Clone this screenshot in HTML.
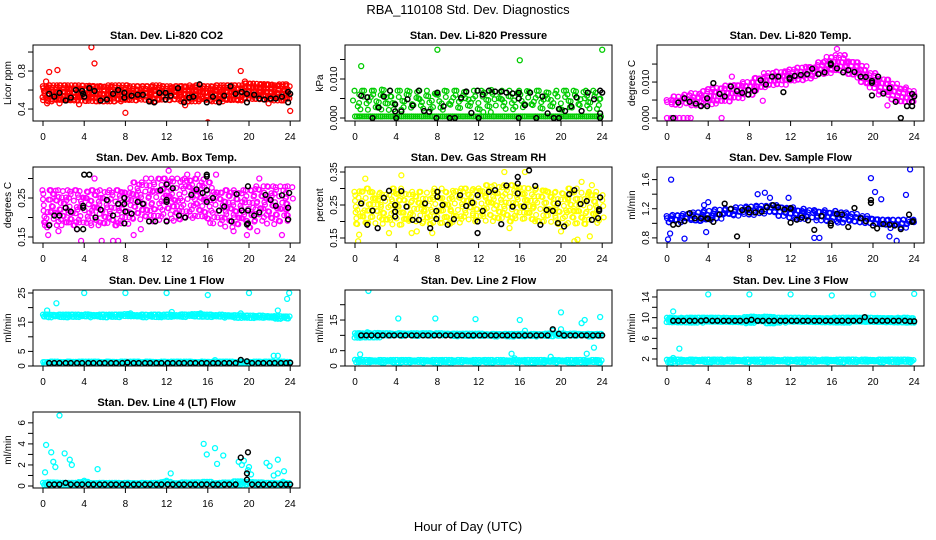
<!DOCTYPE html>
<html><head><meta charset="utf-8"><style>
html,body{margin:0;padding:0;background:#fff;}
svg{display:block;font-family:"Liberation Sans",Arial,sans-serif;}
</style></head><body>
<svg id="chart" width="936" height="540" viewBox="0 0 936 540" xmlns="http://www.w3.org/2000/svg">
<text x="468" y="14" font-size="13" text-anchor="middle">RBA_110108  Std. Dev. Diagnostics</text>
<text x="468" y="531" font-size="13" text-anchor="middle">Hour of Day (UTC)</text>
</svg>
<script>
// ---- shared data ----
const xTicks = [0,4,8,12,16,20,24];
const blackHours = [0.6,1.1,1.6,2.2,2.7,3.3,3.8,4.4,4.9,5.5,6.0,6.6,7.1,7.7,8.2,8.8,9.3,9.9,10.4,11.0,11.5,12.1,12.6,13.2,13.7,14.3,14.8,15.4,15.9,16.5,17.0,17.6,18.1,18.7,19.2,19.8,20.3,20.9,21.4,22.0,22.5,23.1,23.6,24.0];

// ---- CO2 ----
const co2Lo = [0.48,0.48,0.48,0.48,0.48,0.48,0.48,0.48,0.48,0.48,0.48,0.48,0.48,0.48,0.48,0.48,0.48,0.48,0.48,0.48,0.49,0.49,0.49,0.49,0.49];
const co2Hi = [0.64,0.65,0.65,0.65,0.65,0.65,0.65,0.65,0.65,0.64,0.64,0.65,0.64,0.64,0.65,0.65,0.64,0.65,0.65,0.65,0.67,0.67,0.67,0.66,0.66];
const co2Out = [[0.3,0.69],[0.6,0.79],[1.4,0.81],[4.7,1.05],[5,0.88],[19.2,0.8],[19.6,0.69],[0.4,0.46],[1.6,0.46],[8,0.36],[13.8,0.44],[16,0.26],[24,0.38],[21.9,0.46],[3.5,0.45]];
const co2Black = [[0.6,0.56],[1.1,0.53],[1.6,0.57],[2.2,0.49],[2.7,0.52],[3.2,0.6],[3.8,0.59],[3.9,0.56],[4,0.53],[4.5,0.62],[5,0.59],[5.6,0.49],[6.2,0.5],[6.8,0.56],[7.3,0.6],[7.9,0.52],[7.9,0.57],[8.6,0.54],[9.2,0.55],[9.7,0.55],[10.3,0.48],[10.8,0.47],[11.3,0.57],[11.9,0.5],[11.9,0.57],[12.4,0.54],[13.1,0.62],[13.7,0.47],[14.2,0.52],[14.6,0.53],[15.2,0.66],[15.9,0.47],[16.5,0.53],[17.1,0.47],[17.6,0.54],[18.2,0.64],[18.7,0.56],[19.3,0.58],[19.8,0.47],[19.8,0.56],[20.5,0.55],[21,0.51],[21.5,0.5],[22.1,0.51],[22.6,0.51],[23.2,0.53],[23.8,0.47],[23.8,0.58],[24,0.56]];

// ---- Pressure ----
const presLo = [0.0015,0.0015,0.0015,0.0015,0.0015,0.0015,0.0015,0.0015,0.0015,0.0015,0.0015,0.0015,0.0015,0.0015,0.0015,0.0015,0.0015,0.0015,0.0015,0.0015,0.0015,0.0015,0.0015,0.0015,0.0015];
const presHi = [0.007,0.007,0.007,0.0075,0.007,0.007,0.007,0.007,0.0068,0.007,0.007,0.007,0.007,0.0072,0.007,0.007,0.007,0.007,0.007,0.007,0.007,0.007,0.007,0.007,0.007];
const presZeroLo = [0,0,0,0,0,0,0,0,0,0,0,0,0,0,0,0,0,0,0,0,0,0,0,0,0];
const presZeroHi = [0.0004,0.0004,0.0004,0.0004,0.0004,0.0004,0.0004,0.0004,0.0004,0.0004,0.0004,0.0004,0.0004,0.0004,0.0004,0.0004,0.0004,0.0004,0.0004,0.0004,0.0004,0.0004,0.0004,0.0004,0.0004];
const presOut = [[0.6,0.0133],[8,0.0175],[16,0.0148],[24,0.0175]];
const presBlack = [[0.6,0.0057],[1.2,0.0053],[1.7,0],[2.3,0.0027],[2.8,0.0055],[3.4,0.007],[3.9,0.0035],[3.9,0.0017],[4,0],[4.5,0.0017],[5.1,0.0048],[5.6,0.0032],[6.2,0.007],[6.7,0.0018],[7.2,0.0016],[7.9,0],[8,0.0065],[8.6,0.003],[9.2,0],[9.7,0],[10.3,0.0052],[10.8,0.0068],[11.3,0.0013],[11.9,0.007],[12,0],[12.4,0.006],[13,0.007],[13.6,0.0068],[14.2,0.0068],[14.7,0.0065],[15.3,0.0063],[15.9,0.0065],[15.9,0.005],[15.9,0],[16.5,0.0033],[17,0.0065],[17.6,0],[18.2,0.0055],[18.7,0.0012],[19.3,0],[19.8,0.0023],[19.8,0],[20.4,0.0018],[21,0.003],[21.5,0.0053],[22,0.0018],[22.6,0.0065],[23.2,0.0048],[23.8,0.007],[23.8,0.0012],[23.8,0],[24,0.0065]];

// ---- Li-820 Temp ----
const tempLo = [0.0035,0.0035,0.0035,0.0035,0.0035,0.004,0.0045,0.0045,0.006,0.0075,0.0085,0.009,0.0095,0.0105,0.011,0.012,0.0125,0.0125,0.0115,0.0095,0.008,0.0065,0.005,0.0035,0.0035];
const tempHi = [0.005,0.006,0.0065,0.007,0.008,0.0085,0.009,0.0095,0.010,0.0115,0.0125,0.013,0.0135,0.014,0.0145,0.0155,0.017,0.0175,0.016,0.0145,0.0125,0.011,0.0095,0.0085,0.0075];
const tempOut = [[0,0],[0.4,0],[0.8,0],[1.2,0],[1.6,0],[2,0],[2.3,0],[5.3,0],[16.5,0.0192],[6.3,0.0115],[9.3,0.0048],[21.4,0.0035]];
const tempBlack = [[0.6,0],[1.1,0.0043],[1.7,0.0055],[2.2,0.0045],[2.8,0.004],[3.3,0.0033],[3.9,0.0033],[3.9,0.0055],[4.5,0.0097],[5.1,0.0067],[5.6,0.006],[6.2,0.0088],[6.8,0.0075],[7.3,0.007],[7.9,0.0065],[7.9,0.0078],[8.5,0.0075],[9.1,0.0105],[9.6,0.0093],[10.2,0.0115],[10.8,0.0115],[11.3,0.0072],[11.9,0.0112],[11.9,0.0108],[12.4,0.0117],[13,0.012],[13.6,0.0122],[14.1,0.0137],[14.7,0.0122],[15.3,0.0127],[15.9,0.0152],[15.9,0.0148],[16.5,0.0138],[17.1,0.0127],[17.6,0.0133],[18.2,0.0128],[18.8,0.0115],[19.3,0.0114],[19.9,0.0103],[19.9,0.0098],[19.9,0.0063],[20.5,0.0115],[21,0.0068],[21.6,0.0083],[22.2,0.0045],[22.7,0],[23.3,0.0033],[23.8,0.0067],[23.8,0.0045],[23.8,0.0033],[24,0.006]];

// ---- Amb Box Temp ----
const ambLo = [0.18,0.18,0.18,0.18,0.18,0.18,0.18,0.18,0.18,0.19,0.19,0.19,0.19,0.19,0.19,0.19,0.19,0.17,0.17,0.17,0.17,0.18,0.18,0.18,0.18];
const ambHi = [0.27,0.27,0.27,0.27,0.27,0.27,0.27,0.27,0.27,0.29,0.29,0.3,0.3,0.3,0.3,0.3,0.29,0.27,0.27,0.27,0.27,0.28,0.28,0.28,0.28];
const ambOut = [[0.4,0.175],[0.5,0.155],[1.5,0.165],[3.7,0.14],[5.7,0.14],[6.8,0.14],[7.3,0.14],[8.8,0.155],[19.8,0.155],[20.8,0.165],[23.2,0.155],[10,0.3],[12.2,0.32],[14,0.31],[15,0.31],[16.8,0.31],[5,0.3],[3.3,0.17],[9.5,0.17],[18.5,0.165],[21,0.3]];
const ambBlack = [[0.6,0.18],[1.1,0.205],[1.6,0.205],[2.2,0.225],[2.7,0.215],[3.3,0.17],[3.9,0.17],[3.9,0.225],[3.9,0.23],[4,0.31],[4.5,0.31],[5.1,0.2],[5.6,0.22],[6.2,0.245],[6.8,0.205],[7.3,0.235],[7.9,0.235],[7.9,0.25],[7.9,0.185],[8,0.215],[8.6,0.21],[9.2,0.24],[9.7,0.235],[10.3,0.19],[10.9,0.19],[11.4,0.27],[12,0.24],[12,0.245],[12,0.285],[12,0.19],[12.6,0.275],[13.2,0.205],[13.8,0.2],[14.4,0.258],[14.9,0.272],[15.5,0.263],[15.9,0.27],[15.9,0.24],[15.9,0.305],[15.9,0.31],[16.5,0.25],[17.1,0.218],[17.6,0.228],[18.3,0.19],[18.8,0.26],[19.3,0.218],[19.8,0.182],[19.9,0.185],[19.9,0.218],[19.9,0.28],[20.5,0.205],[21,0.213],[21.6,0.258],[22.1,0.245],[22.6,0.23],[23.2,0.257],[23.8,0.225],[23.8,0.195],[23.9,0.263]];

// ---- Gas Stream RH ----
const rhLo = [0.19,0.19,0.19,0.19,0.19,0.19,0.19,0.19,0.19,0.19,0.19,0.2,0.2,0.2,0.2,0.2,0.2,0.2,0.19,0.19,0.19,0.19,0.19,0.19,0.19];
const rhHi = [0.29,0.3,0.29,0.29,0.3,0.29,0.29,0.29,0.3,0.29,0.3,0.3,0.3,0.31,0.31,0.31,0.31,0.3,0.3,0.29,0.29,0.3,0.29,0.29,0.28];
const rhOut = [[0.3,0.14],[0.4,0.16],[1,0.33],[4.5,0.34],[5.5,0.165],[6,0.17],[12,0.3],[14.5,0.35],[15,0.18],[16.5,0.35],[21.3,0.14],[21.6,0.145],[22.8,0.155],[23,0.31],[22,0.32],[20,0.17],[3.3,0.165],[7.5,0.165]];
const rhBlack = [[0.6,0.255],[1.2,0.19],[1.7,0.233],[2.2,0.18],[2.8,0.272],[3.3,0.293],[3.9,0.215],[3.9,0.23],[3.9,0.25],[4.5,0.292],[5,0.245],[5.6,0.205],[6.2,0.205],[6.8,0.255],[7.3,0.18],[7.9,0.208],[7.9,0.232],[8,0.275],[8,0.29],[8.5,0.25],[9,0.19],[9.6,0.207],[10.2,0.28],[10.8,0.247],[11.4,0.257],[11.9,0.28],[11.9,0.2],[11.9,0.165],[12.4,0.232],[13,0.29],[13.6,0.295],[14.2,0.192],[14.7,0.309],[15.3,0.245],[15.8,0.285],[15.8,0.315],[15.8,0.335],[16.4,0.245],[16.9,0.355],[17.5,0.308],[18,0.19],[18.6,0.235],[19.2,0.232],[19.7,0.195],[19.7,0.255],[20.3,0.185],[20.8,0.283],[21.3,0.295],[21.9,0.253],[22.5,0.262],[23,0.205],[23.6,0.21],[23.7,0.232],[23.7,0.237],[23.8,0.273]];

// ---- Sample Flow ----
const flowLo = [0.98,0.99,1.0,1.01,1.02,1.05,1.07,1.09,1.1,1.11,1.12,1.1,1.08,1.06,1.05,1.04,1.03,1.01,1.0,0.97,0.95,0.93,0.92,0.94,0.97];
const flowHi = [1.1,1.12,1.13,1.15,1.17,1.19,1.2,1.22,1.23,1.24,1.25,1.24,1.22,1.2,1.18,1.18,1.17,1.15,1.13,1.1,1.08,1.06,1.05,1.05,1.05];
const flowOut = [[0.4,1.6],[0.1,0.78],[0.3,0.86],[1.7,0.79],[3.8,0.88],[4,1.29],[8.8,1.4],[10,1.35],[11.8,1.35],[14.3,0.8],[19.8,1.62],[20.2,1.43],[20.8,1.33],[23.6,1.74],[23.2,1.39],[22.3,0.76],[21.6,0.82],[3.6,1.25],[14.8,0.8],[9.5,1.42]];
const flowBlack = [[0.6,0.98],[1.1,0.99],[1.7,1.03],[2.2,1.14],[2.7,1.07],[3.3,1.07],[3.9,1.07],[4,1.06],[4.5,1.02],[5.1,1.12],[5.6,1.27],[6.8,0.82],[6.2,1.2],[7.3,1.18],[7.9,1.2],[8,1.15],[8.6,1.15],[9.2,1.16],[9.7,1.22],[10.3,1.25],[10.8,1.22],[11.4,1.19],[12,1.21],[12,1.2],[12,1.01],[12.6,1.05],[13.1,1.08],[13.7,1.04],[14.3,0.91],[15,1.1],[15.9,0.97],[15.9,1.0],[16.5,1.13],[17,1.12],[17.6,0.95],[18.2,1.21],[18.8,1.07],[19.3,1.03],[19.8,1.28],[19.8,1.32],[20,0.97],[20.4,0.93],[21,0.99],[21.6,0.98],[22.1,0.97],[22.7,0.92],[23.5,1.12],[23.8,1.02],[23.9,1.03]];

// ---- Line 1 ----
const l1HighLo = [16.2,16.3,16.3,16.3,16.3,16.3,16.3,16.3,16.4,16.3,16.3,16.3,16.3,16.3,16.3,16.4,16.3,16.3,16.2,16.2,16.2,16.1,16.0,16.0,16.0];
const l1HighHi = [17.6,17.6,17.6,17.6,17.7,17.6,17.6,17.6,17.8,17.6,17.6,17.6,17.6,17.6,17.7,17.8,17.6,17.6,17.5,17.4,17.3,17.3,17.2,17.1,17.0];
const l1LowLo = [0.4,0.5,0.5,0.5,0.5,0.5,0.5,0.5,0.5,0.5,0.5,0.5,0.5,0.5,0.5,0.5,0.5,0.5,0.5,0.5,0.5,0.5,0.5,0.5,0.5];
const l1LowHi = [1.4,1.5,1.5,1.5,1.5,1.5,1.5,1.5,1.5,1.5,1.5,1.5,1.5,1.5,1.5,1.5,1.5,1.5,1.5,1.5,1.5,1.5,1.5,1.5,1.5];
const l1Out = [[0.1,17],[0.4,19],[1.3,21.5],[4,25],[8,25],[12,25],[16,24.3],[20,25],[23.7,23],[23.9,25],[22.8,19],[22.4,3.5],[22.8,3.5],[16.7,2],[19.2,18],[8.5,18],[15.3,18],[12.5,18.5]];
const l1BlackVals = [1,1,1,1,1,1,1,1,1,1,1,1,1,1,1.2,1,1,1,1,1,1,1,1,1,1,1,1,1,1,1,1,1,1,1,2.1,1.6,1,1,1,1,1,1,1,1.1];

// ---- Line 2 ----
const l2HighLo = [9.2,9.3,9.3,9.3,9.3,9.3,9.3,9.3,9.3,9.3,9.3,9.3,9.3,9.3,9.3,9.3,9.3,9.3,9.3,9.3,9.3,9.3,9.3,9.3,9.3];
const l2HighHi = [10.7,10.8,10.8,10.7,10.7,10.7,10.7,10.7,10.7,10.7,10.6,10.6,10.6,10.5,10.5,10.5,10.5,10.5,10.5,10.6,10.6,10.6,10.6,10.5,10.5];
const l2LowLo = [0.8,0.9,0.9,0.9,0.9,0.9,0.9,0.9,0.9,0.9,0.9,0.9,0.9,0.9,0.9,0.9,0.9,0.9,0.9,0.9,0.9,0.9,0.9,0.9,0.9];
const l2LowHi = [2.1,2.0,2.0,2.0,2.0,2.0,2.0,2.0,2.0,2.0,2.0,2.0,2.0,2.0,2.0,2.0,2.0,2.0,2.0,2.0,2.0,2.0,2.0,2.0,2.0];
const l2Out = [[1.3,24.5],[0.5,3.8],[7.8,15.5],[4.2,15.5],[11.7,15.3],[15.2,4],[15.5,2.5],[16,15],[16.5,11.5],[19,3],[20,17.5],[20,12],[22,14],[22.3,15],[22.5,4],[23.2,6],[23.8,16],[19.2,11.5],[1.2,11]];
const l2BlackVals = [10,10,10,10,10,10,10,10,10,10,10,10,10,10,10,10,10,10,10,10,10,10,10,10,10,10,10,10,10,10,10,10,10,10,12,10.5,10,10,10,10,10,10,10,10];

// ---- Line 3 ----
const l3HighLo = [8.9,8.9,8.9,8.9,8.9,8.9,8.9,8.9,8.9,8.9,8.9,8.9,8.9,8.9,8.9,8.9,8.9,8.9,8.9,8.9,8.9,8.9,8.9,8.9,8.9];
const l3HighHi = [10.0,10.0,10.0,10.0,10.0,10.0,10.0,10.0,10.2,10.1,10.2,10.0,10.0,10.0,10.0,10.0,10.0,10.0,10.0,10.0,10.0,10.0,10.0,10.0,9.9];
const l3LowLo = [1.1,1.2,1.2,1.2,1.2,1.2,1.2,1.2,1.2,1.2,1.2,1.2,1.2,1.2,1.2,1.2,1.2,1.2,1.2,1.2,1.2,1.2,1.2,1.2,1.2];
const l3LowHi = [1.9,1.9,1.9,1.9,1.9,1.9,1.9,1.9,1.9,1.9,1.9,1.9,1.9,1.9,1.9,1.9,1.9,1.9,1.9,1.9,1.9,1.9,1.9,1.9,1.9];
const l3Out = [[4,14.5],[8,14.5],[12,14.5],[16,14.3],[20,14.5],[24,14.6],[0.6,11.2],[1.2,4],[0.6,2.2],[0.8,1.1],[0.3,1.1]];
const l3BlackVals = [9.4,9.4,9.4,9.4,9.4,9.4,9.5,9.4,9.4,9.4,9.4,9.4,9.4,9.4,9.6,9.4,9.4,9.4,9.4,9.4,9.4,9.4,9.4,9.4,9.4,9.4,9.4,9.4,9.4,9.4,9.4,9.4,9.4,9.4,10.1,9.4,9.4,9.4,9.4,9.4,9.4,9.4,9.3,9.3];

// ---- Line 4 ----
const l4Lo = [0,0,0,0,0,0,0,0,0,0,0,0,0,0,0,0,0,0,0,0,0,0,0,0,0];
const l4Hi = [0.3,0.35,0.3,0.3,0.4,0.3,0.3,0.3,0.3,0.3,0.3,0.3,0.4,0.3,0.35,0.35,0.4,0.3,0.35,0.45,0.4,0.35,0.3,0.3,0.3];
const l4Out = [[0.2,1.3],[0.3,3.9],[0.8,3.2],[1,2.3],[1.2,1.8],[1.6,6.7],[2.1,3.1],[2.6,2.5],[2.8,2.0],[4,0.5],[5.3,1.6],[12,0.5],[12.4,1.2],[15.6,4],[15.9,3],[16.7,3.6],[16.9,2.1],[17.5,2.9],[19,2.3],[19.3,2],[19.5,2.4],[19.9,1.5],[20,1.8],[20.2,1.1],[21.7,2.2],[22,1.9],[22.4,1.0],[22.8,2.5],[22.8,1.2],[23.4,1.4],[23.3,0.4]];
const l4BlackVals = [0.15,0.15,0.15,0.3,0.15,0.15,0.15,0.15,0.15,0.15,0.15,0.15,0.15,0.15,0.15,0.15,0.15,0.15,0.15,0.15,0.15,0.15,0.15,0.15,0.15,0.15,0.15,0.15,0.15,0.15,0.15,0.15,0.15,0.15,2.7,0.6,0.15,0.15,0.15,0.15,0.15,0.15,0.15,0.15];
const l4BlackExtra = [[19.9,3.2],[19.8,1.2]];

// ---- panel layout ----
const NS='http://www.w3.org/2000/svg';
const svg=document.getElementById('chart');
const colX0=[43,355,667], rowTop=[45,167,290,412], boxH=76, HPX=10.3;
function el(tag,attrs,parent){const e=document.createElementNS(NS,tag);for(const k in attrs)e.setAttribute(k,attrs[k]);(parent||svg).appendChild(e);return e;}

const panels=[
 {name:'co2',title:'Stan. Dev. Li-820 CO2',ylab:'Licor ppm',col:0,row:0,dom:[0.274,1.074],ticks:[0.4,0.6,0.8,1.0],labs:['0.4','','0.8',''],color:'#ff0000',
  bands:[[co2Lo,co2Hi,2.6,1.2]],out:co2Out,black:co2Black},
 {name:'pressure',title:'Stan. Dev. Li-820 Pressure',ylab:'kPa',col:1,row:0,dom:[-0.00077,0.01872],ticks:[0,0.005,0.010,0.015],labs:['0.000','','0.010',''],color:'#00cc00',
  bands:[[presLo,presHi,5.5,2.5],[presZeroLo,presZeroHi,2,0]],out:presOut,black:presBlack},
 {name:'li820-temp',title:'Stan. Dev. Li-820 Temp.',ylab:'degrees C',col:2,row:0,dom:[-0.00083,0.0203],ticks:[0,0.005,0.010,0.015],labs:['0.000','','0.010',''],color:'#ff00ff',
  bands:[[tempLo,tempHi,3,1.8]],out:tempOut,black:tempBlack},
 {name:'amb-box-temp',title:'Stan. Dev. Amb. Box Temp.',ylab:'degrees C',col:0,row:1,dom:[0.1346,0.3295],ticks:[0.15,0.2,0.25,0.3],labs:['0.15','','0.25',''],color:'#ff00ff',
  bands:[[ambLo,ambHi,5,2.8]],out:ambOut,black:ambBlack},
 {name:'gas-stream-rh',title:'Stan. Dev. Gas Stream RH',ylab:'percent',col:1,row:1,dom:[0.1348,0.3652],ticks:[0.15,0.2,0.25,0.3,0.35],labs:['0.15','','0.25','','0.35'],color:'#ffff00',
  bands:[[rhLo,rhHi,5,2.8]],out:rhOut,black:rhBlack},
 {name:'sample-flow',title:'Stan. Dev. Sample Flow',ylab:'ml/min',col:2,row:1,dom:[0.73,1.773],ticks:[0.8,1.0,1.2,1.4,1.6],labs:['0.8','','1.2','','1.6'],color:'#0000ff',
  bands:[[flowLo,flowHi,3.2,2]],out:flowOut,black:flowBlack},
 {name:'line1-flow',title:'Stan. Dev. Line 1 Flow',ylab:'ml/min',col:0,row:2,dom:[0,26.03],ticks:[0,5,10,15,20,25],labs:['0','5','','15','','25'],color:'#00ffff',
  bands:[[l1HighLo,l1HighHi,2.2,0.6],[l1LowLo,l1LowHi,2.2,0.4]],out:l1Out,black:blackHours.map((h,i)=>[h,l1BlackVals[i]])},
 {name:'line2-flow',title:'Stan. Dev. Line 2 Flow',ylab:'ml/min',col:1,row:2,dom:[0,24.8],ticks:[0,5,10,15,20],labs:['0','5','','15',''],color:'#00ffff',
  bands:[[l2HighLo,l2HighHi,2.2,0.6],[l2LowLo,l2LowHi,2.2,0.6]],out:l2Out,black:blackHours.map((h,i)=>[h,l2BlackVals[i]])},
 {name:'line3-flow',title:'Stan. Dev. Line 3 Flow',ylab:'ml/min',col:2,row:2,dom:[0.645,15.35],ticks:[2,4,6,8,10,12,14],labs:['2','','6','','10','','14'],color:'#00ffff',
  bands:[[l3HighLo,l3HighHi,2.2,0.6],[l3LowLo,l3LowHi,2.2,0.6]],out:l3Out,black:blackHours.map((h,i)=>[h,l3BlackVals[i]])},
 {name:'line4-flow',title:'Stan. Dev. Line 4 (LT) Flow',ylab:'ml/min',col:0,row:3,dom:[-0.19,7.03],ticks:[0,1,2,3,4,5,6],labs:['0','','2','','4','','6'],color:'#00ffff',
  bands:[[l4Lo,l4Hi,2.2,0.4]],out:l4Out,black:blackHours.map((h,i)=>[h,l4BlackVals[i]]).concat(l4BlackExtra)}
];

panels.forEach(p=>{
  const x0=colX0[p.col], top=rowTop[p.row], bot=top+boxH;
  const left=x0-10, right=x0+257;
  const X=h=>x0+h*HPX;
  const Y=v=>bot-(v-p.dom[0])/(p.dom[1]-p.dom[0])*boxH;
  const g=el('g',{});
  
  
  const clip=el('clipPath',{id:'clip-'+p.name},g);
  el('rect',{x:left,y:top,width:right-left,height:boxH},clip);
  const marks=el('g',{'clip-path':'url(#clip-'+p.name+')'},g);
  
  
  // bands: textured clouds from lo/hi per hour (texture offsets are purely visual)
  let k=0;
  p.bands.forEach(b=>{
    const lo=b[0],hi=b[1],step=b[2],jit=b[3];
    for(let i=0;i<lo.length;i++){
      const xa=X(Math.max(0,i-0.5)), xb=X(Math.min(24,i+0.5));
      const ya=Y(hi[i]), yb=Y(lo[i]);
      let r=0;
      for(let y=ya;y<=yb+0.01;y+=step,r++){
        for(let x=xa+(r%2)*step/2;x<=xb;x+=step){
          k++;
          const jx=(((k*37)%11)-5)/5*jit, jy=(((k*53)%13)-6)/6*jit;
          const cy=Math.min(yb,Math.max(ya,y+jy));
          const c=el('circle',{cx:(x+jx).toFixed(1),cy:cy.toFixed(1),r:2.4,fill:'none',stroke:p.color,'stroke-width':1.3},marks);
          
          
        }
      }
    }
  });
  p.out.forEach(d=>{
    const c=el('circle',{cx:X(d[0]),cy:Y(d[1]),r:2.5,fill:'none',stroke:p.color,'stroke-width':1.3},marks);
    
    
  });
  p.black.forEach(d=>{
    const c=el('circle',{cx:X(d[0]),cy:Y(d[1]),r:2.4,fill:'none',stroke:'#000','stroke-width':1.5},marks);
    
    
  });
  const box=el('rect',{x:left,y:top,width:right-left,height:boxH,fill:'none',stroke:'#000','stroke-width':1},g);
  
  
  const t=el('text',{x:(left+right)/2,y:top-6,'font-size':11,'font-weight':'bold','text-anchor':'middle'},g);
  t.textContent=p.title;
  
  
  const xa=el('g',{},g);
  
  
  el('line',{x1:X(0),x2:X(24),y1:bot,y2:bot,stroke:'#000'},xa);
  xTicks.forEach(h=>{
    el('line',{x1:X(h),x2:X(h),y1:bot,y2:bot+5,stroke:'#000'},xa);
    const tl=el('text',{x:X(h),y:bot+19,'font-size':10,'text-anchor':'middle'},xa);
    tl.textContent=h;
    
    
  });
  const ya=el('g',{},g);
  
  
  p.ticks.forEach((v,i)=>{
    const yy=Y(v);
    el('line',{x1:left-5,x2:left,y1:yy,y2:yy,stroke:'#000'},ya);
    if(p.labs[i]){
      const tl=el('text',{x:left-8,y:yy,'font-size':10,'text-anchor':'middle',transform:'rotate(-90 '+(left-8)+' '+yy+')'},ya);
      tl.textContent=p.labs[i];
      
      
    }
  });
  const yl=el('text',{x:left-22,y:top+boxH/2,'font-size':10,'text-anchor':'middle',transform:'rotate(-90 '+(left-22)+' '+(top+boxH/2)+')'},g);
  yl.textContent=p.ylab;
  
  
});
</script>
</body></html>
